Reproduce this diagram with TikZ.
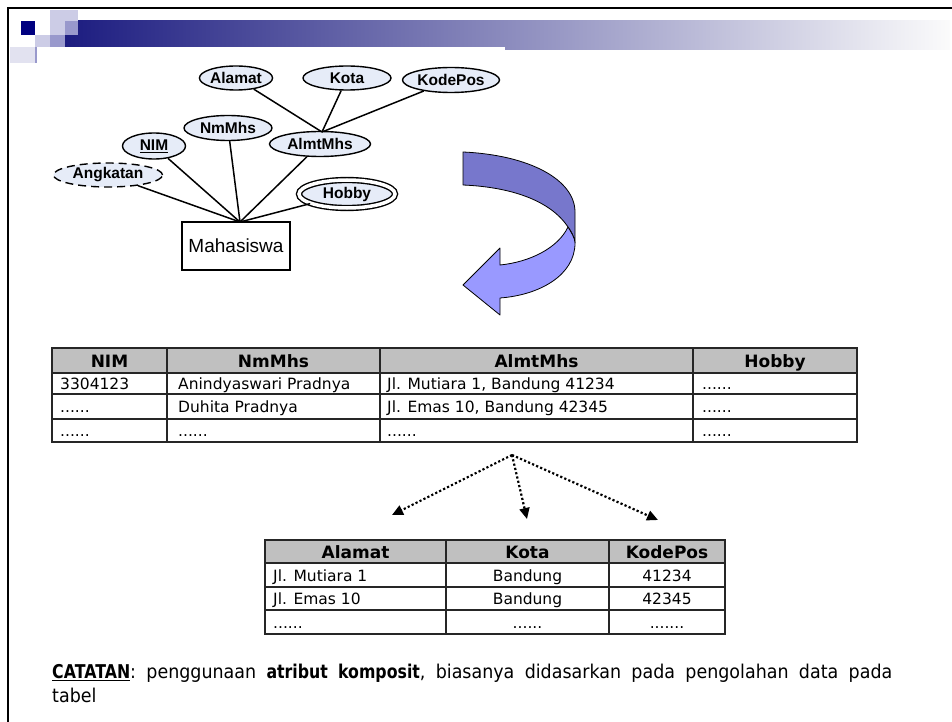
\documentclass[tikz,border=0pt]{standalone}
\usepackage{fontspec}
\setmainfont{DejaVu Sans}
\newfontfamily\erfont{Liberation Sans}
\newfontfamily\notefont[FakeStretch=0.92]{DejaVu Sans}
\newfontfamily\noteboldfont[FakeStretch=0.83]{DejaVu Sans Bold}
\usetikzlibrary{shapes.geometric,arrows.meta}

\definecolor{navyblk}{HTML}{000080}
\definecolor{barleft}{HTML}{1C1C80}
\definecolor{barmid}{HTML}{B0B0C6}
\definecolor{barright}{HTML}{FBFBFB}
\definecolor{lav}{HTML}{CCCCE6}
\definecolor{lavmid}{HTML}{9999CC}
\definecolor{lavpale}{HTML}{E2E2F0}
\definecolor{attrfill}{HTML}{E6ECF8}
\definecolor{ribdark}{HTML}{7777CC}
\definecolor{riblight}{HTML}{9999FF}
\definecolor{hdrgray}{HTML}{C0C0C0}

\tikzset{
  attr/.style={ellipse, draw=black, line width=1.4pt, fill=attrfill, inner sep=0pt,
    font=\erfont\bfseries\fontsize{15.5}{17}\selectfont},
  entitybox/.style={draw=black, line width=2pt, fill=white, inner sep=0pt,
    minimum width=108pt, minimum height=48pt, font=\erfont\fontsize{19}{22}\selectfont},
  erline/.style={draw=black, line width=1.5pt},
  tblline/.style={draw=black!85, line width=1.3pt},
  hdr/.style={font=\bfseries\fontsize{17}{20}\selectfont, inner sep=0pt, anchor=base},
  cell/.style={font=\fontsize{15.5}{18}\selectfont, inner sep=0pt, anchor=base west},
  ccell/.style={font=\fontsize{15.5}{18}\selectfont, inner sep=0pt, anchor=base},
  splitarrow/.style={line width=2.2pt, dash pattern=on 2.2pt off 2.2pt,
    -{Triangle[length=11pt,width=10pt]}},
  ribbon/.style={draw=black, line width=0.8pt, line join=round},
}

\begin{document}
\begin{tikzpicture}[x=1pt,y=-1pt]
\useasboundingbox (0,0) rectangle (952,722);
\fill[white] (0,0) rectangle (952,722);

% slide header: gradient bar and small squares
\shade[left color=barleft, middle color=barmid, right color=barright] (65,21) rectangle (950,50);
\fill[white] (37,47) rectangle (505,280);
\fill[navyblk] (21,21) rectangle (35,35);
\fill[lav] (50,10) rectangle (78,21);
\fill[lav] (50,21) rectangle (65,35);
\fill[lavmid] (65,21) rectangle (78,35);
\fill[lav] (35,35) rectangle (50,47);
\fill[lavmid] (50,35) rectangle (65,47);
\fill[lavpale] (10,47) rectangle (35,63);
\fill[lavmid] (35,47) rectangle (37,63);
\draw[line width=2.5pt] (8,722) -- (8,8) -- (952,8);

% ER diagram: entity with its attributes
\node[entitybox] (mhs) at (236,246) {Mahasiswa};
\coordinate (hub) at (240,222);
\coordinate (join) at (322,132);

\node[attr, minimum width=63pt, minimum height=24pt] (alamat) at (236,78) {Alamat};
\node[attr, minimum width=88pt, minimum height=24pt] (kota) at (347,78) {Kota};
\node[attr, minimum width=97pt, minimum height=25pt] (kodepos) at (451,80) {KodePos};
\node[attr, minimum width=88pt, minimum height=25pt] (nmmhs) at (228,128) {NmMhs};
\node[attr, minimum width=63pt, minimum height=26pt] (nim) at (154,146) {\underline{NIM}};
\node[attr, minimum width=101pt, minimum height=25pt] (almt) at (320,144) {AlmtMhs};
\node[attr, minimum width=109pt, minimum height=24pt, dash pattern=on 8pt off 5pt] (angkatan) at (108,175) {Angkatan};
\node[attr, minimum width=96pt, minimum height=28pt, double=white, double distance=3.5pt] (hobby) at (347,194) {Hobby};

\draw[erline] (alamat) -- (join);
\draw[erline] (kota) -- (join);
\draw[erline] (kodepos) -- (join);
\draw[erline] (angkatan) -- (hub);
\draw[erline] (nim) -- (hub);
\draw[erline] (nmmhs) -- (hub);
\draw[erline] (almt) -- (hub);
\draw[erline] (hobby) -- (hub);

% folded ribbon arrow
\path[ribbon, fill=ribdark]
  (463,152) .. controls (530,155) and (575,180) .. (575,212)
  -- (575,243) .. controls (574,236) and (571,231) .. (568,227)
  .. controls (550,200) and (510,187) .. (463,185) -- cycle;
\path[ribbon, fill=riblight]
  (568,227) .. controls (571,232) and (575,238) .. (575,243)
  .. controls (575,275) and (540,295) .. (500,298)
  -- (500,315) -- (463,285) -- (500,248) -- (500,265)
  .. controls (530,262) and (558,248) .. (568,227) -- cycle;

% table Mahasiswa
\fill[hdrgray] (52,348) rectangle (857,373);
\draw[tblline] (52,348) rectangle (857,442);
\foreach \yy in {373,394,419} \draw[tblline] (52,\yy) -- (857,\yy);
\foreach \xx in {167,380,693} \draw[tblline] (\xx,348) -- (\xx,442);

\node[hdr] (t1h1) at (109.5,367) {NIM};
\node[hdr] (t1h2) at (273.5,367) {NmMhs};
\node[hdr] (t1h3) at (536.5,367) {AlmtMhs};
\node[hdr] (t1h4) at (775,367) {Hobby};

\node[cell] (t1a1) at (60,389) {3304123};
\node[cell] (t1a2) at (178,389) {Anindyaswari Pradnya};
\node[cell] (t1a3) at (387,389) {Jl. Mutiara 1, Bandung 41234};
\node[cell] (t1a4) at (702,389) {......};
\node[cell] (t1b1) at (60,412) {......};
\node[cell] (t1b2) at (178,412) {Duhita Pradnya};
\node[cell] (t1b3) at (387,412) {Jl. Emas 10, Bandung 42345};
\node[cell] (t1b4) at (702,412) {......};
\node[cell] (t1c1) at (60,436) {......};
\node[cell] (t1c2) at (178,436) {......};
\node[cell] (t1c3) at (387,436) {......};
\node[cell] (t1c4) at (702,436) {......};

% split of the composite attribute
\coordinate (src) at (512,455);
\coordinate (tipa) at (392,515);
\coordinate (tipb) at (527,519);
\coordinate (tipc) at (658,520);
\draw[splitarrow] (src) -- (tipa);
\draw[splitarrow] (src) -- (tipb);
\draw[splitarrow] (src) -- (tipc);

% table of address parts
\fill[hdrgray] (265,540) rectangle (725,563);
\draw[tblline] (265,540) rectangle (725,634);
\foreach \yy in {563,587,610} \draw[tblline] (265,\yy) -- (725,\yy);
\foreach \xx in {446,609} \draw[tblline] (\xx,540) -- (\xx,634);

\node[hdr] (t2h1) at (355.5,558) {Alamat};
\node[hdr] (t2h2) at (527.5,558) {Kota};
\node[hdr] (t2h3) at (667,558) {KodePos};

\node[cell] (t2a1) at (273,581) {Jl. Mutiara 1};
\node[ccell] (t2a2) at (527.5,581) {Bandung};
\node[ccell] (t2a3) at (667,581) {41234};
\node[cell] (t2b1) at (273,604) {Jl. Emas 10};
\node[ccell] (t2b2) at (527.5,604) {Bandung};
\node[ccell] (t2b3) at (667,604) {42345};
\node[cell] (t2c1) at (273,628) {......};
\node[ccell] (t2c2) at (527.5,628) {......};
\node[ccell] (t2c3) at (667,628) {.......};

% note below the tables
\node[anchor=north west, text width=840pt, inner sep=0pt, align=justify,
      font=\notefont\fontsize{19}{24}\selectfont\frenchspacing] (note) at (52,663.6)
  {{\noteboldfont\underline{CATATAN}}: penggunaan {\noteboldfont atribut komposit}, biasanya didasarkan pada pengolahan data pada\linebreak tabel};
\end{tikzpicture}
\end{document}
